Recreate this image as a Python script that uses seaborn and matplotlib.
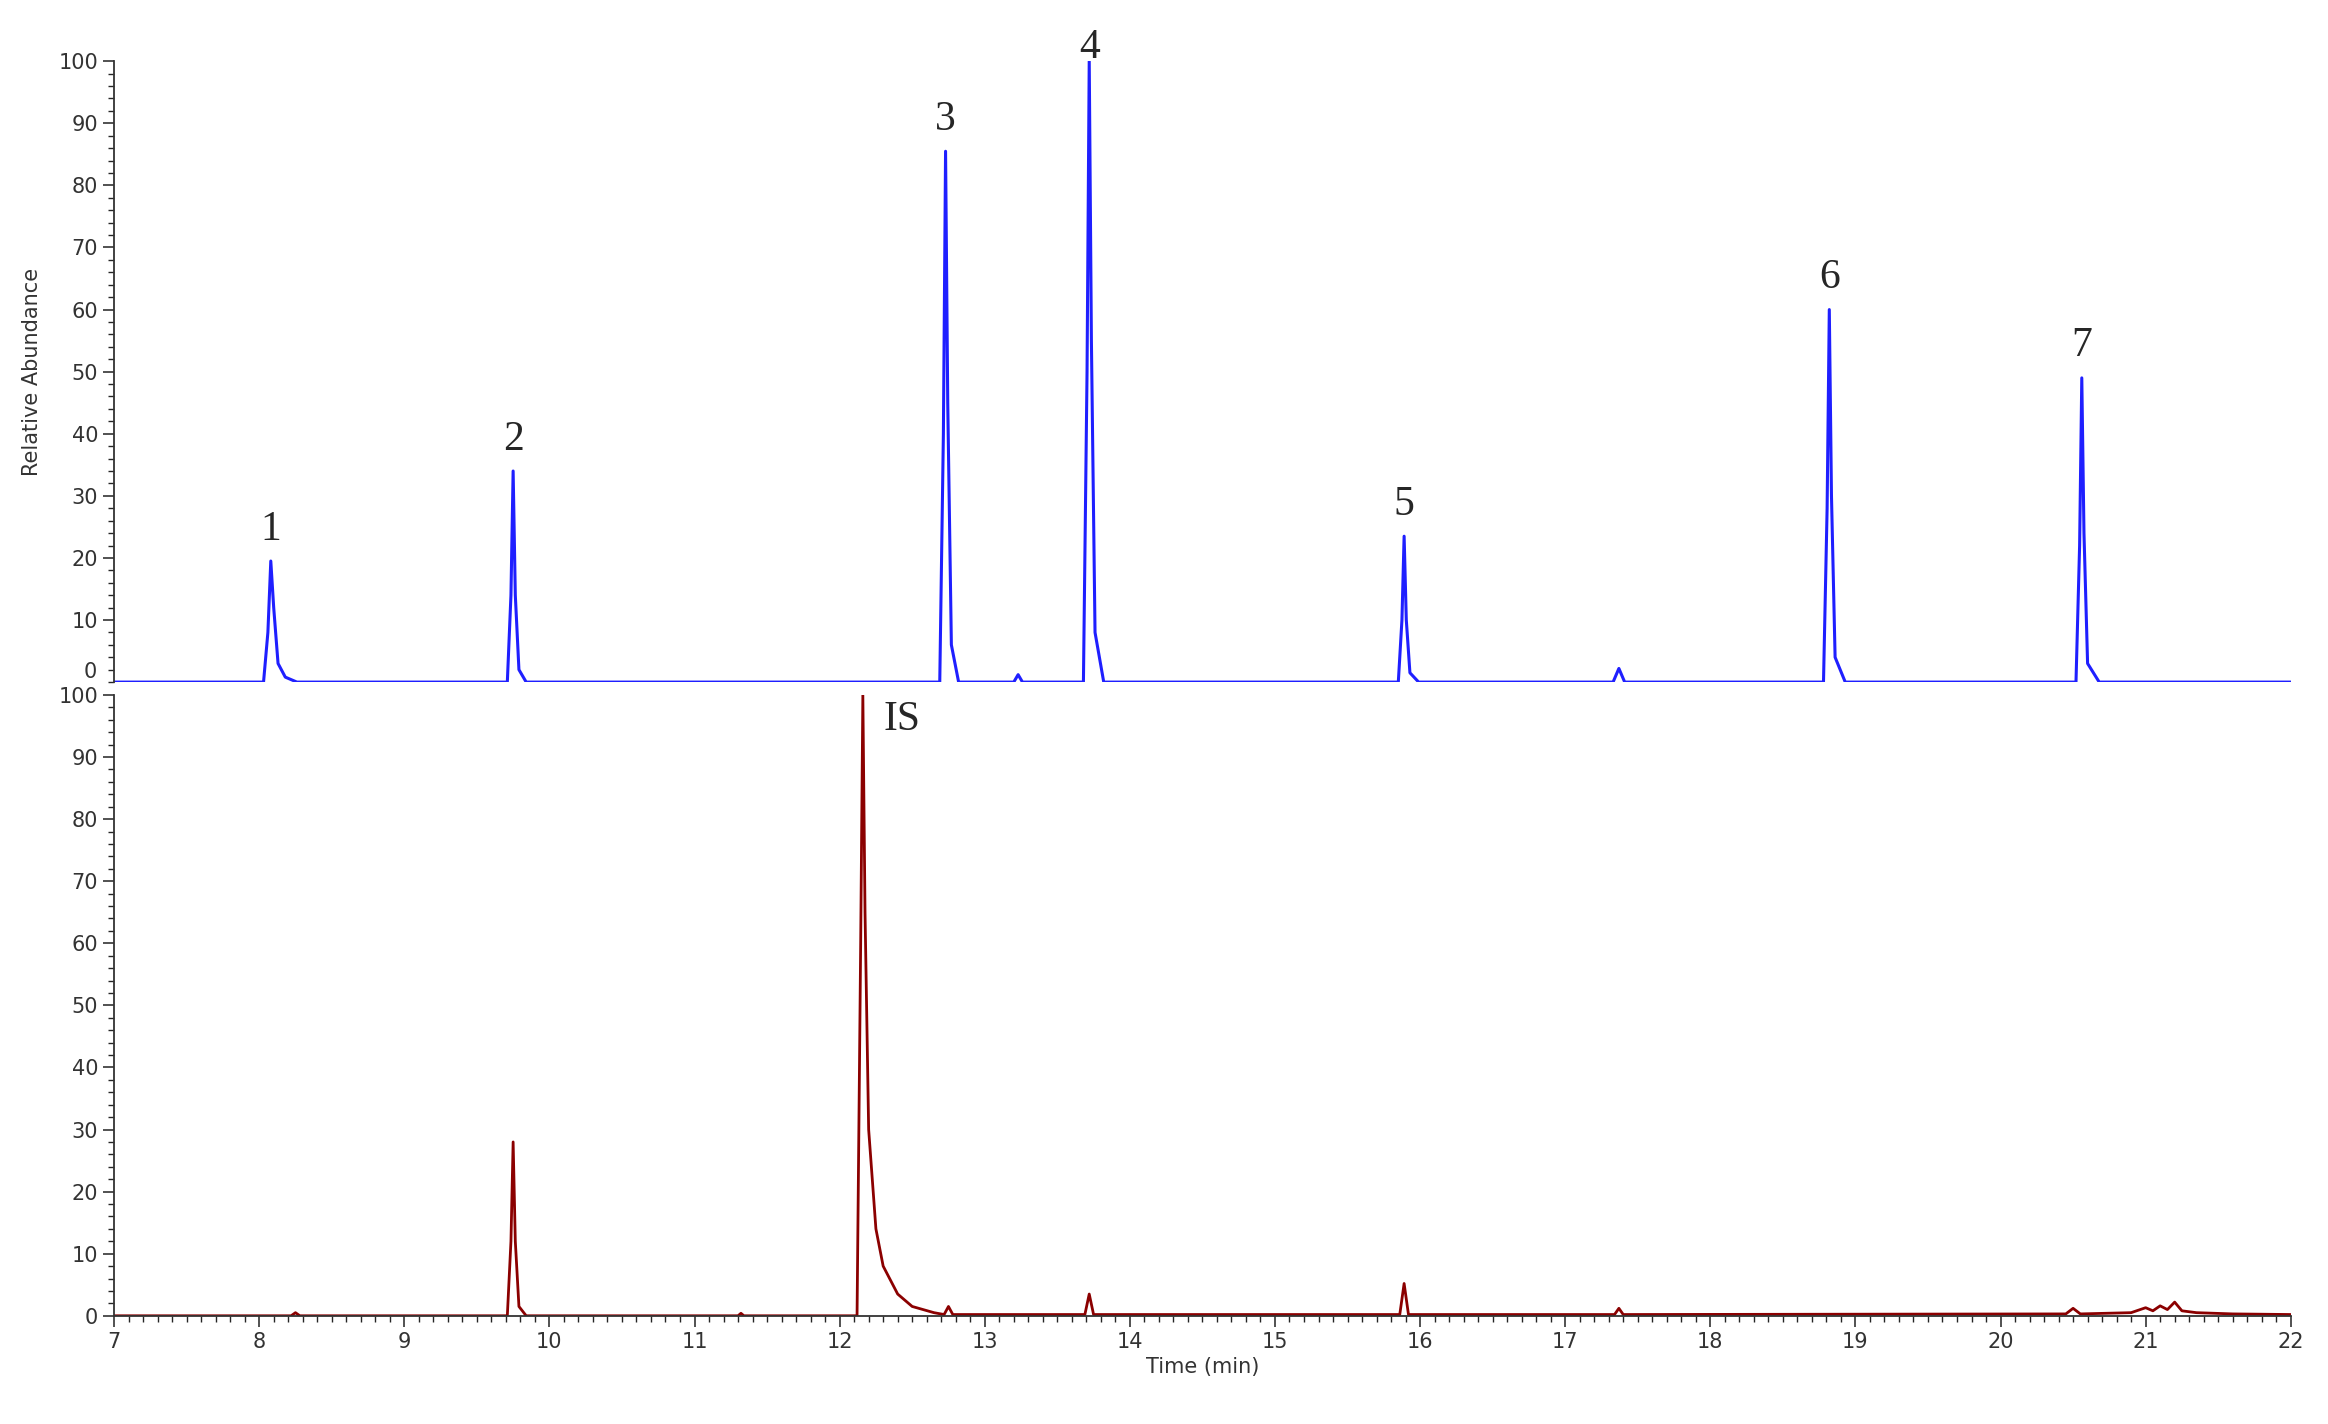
import matplotlib
matplotlib.use("Agg")
import matplotlib.pyplot as plt
import seaborn as sns
import pandas as pd
from matplotlib.ticker import MultipleLocator

# top trace (analytes), time in min / relative abundance
top_time = [7.0, 8.03, 8.06, 8.08, 8.10, 8.13, 8.18, 8.26,
            9.71, 9.735, 9.75, 9.765, 9.79, 9.84,
            12.69, 12.715, 12.73, 12.745, 12.77, 12.82,
            13.20, 13.23, 13.26,
            13.68, 13.705, 13.72, 13.735, 13.76, 13.82,
            15.85, 15.875, 15.89, 15.905, 15.93, 15.99,
            17.33, 17.37, 17.41,
            18.78, 18.805, 18.82, 18.835, 18.86, 18.93,
            20.52, 20.545, 20.56, 20.575, 20.60, 20.68, 22.0]
top_abund = [0, 0, 8, 19.5, 12, 3, 0.8, 0,
             0, 14, 34, 14, 2, 0,
             0, 40, 85.5, 45, 6, 0,
             0, 1.2, 0,
             0, 50, 100, 55, 8, 0,
             0, 10, 23.5, 10, 1.5, 0,
             0, 2.2, 0,
             0, 28, 60, 30, 4, 0,
             0, 22, 49, 24, 3, 0, 0]

# bottom trace (internal standard channel)
bot_time = [7.0, 8.22, 8.25, 8.28,
            9.71, 9.735, 9.75, 9.765, 9.79, 9.84,
            11.3, 11.32, 11.34,
            12.12, 12.145, 12.16, 12.175, 12.20, 12.25, 12.30, 12.40, 12.50, 12.65,
            12.72, 12.75, 12.78,
            13.69, 13.72, 13.75,
            15.86, 15.89, 15.92,
            17.34, 17.37, 17.40,
            20.45, 20.5, 20.55, 20.9, 21.0, 21.05, 21.1, 21.15, 21.2, 21.25, 21.35, 21.6, 22.0]
bot_abund = [0, 0, 0.5, 0,
             0, 12, 28, 12, 1.5, 0,
             0, 0.4, 0,
             0, 60, 100, 65, 30, 14, 8, 3.5, 1.5, 0.5,
             0.2, 1.5, 0.2,
             0.2, 3.5, 0.2,
             0.2, 5.2, 0.2,
             0.2, 1.2, 0.2,
             0.3, 1.2, 0.3, 0.5, 1.3, 0.8, 1.6, 1.0, 2.2, 0.8, 0.5, 0.3, 0.2]

peak_labels = ["1", "2", "3", "4", "5", "6", "7"]
peak_pos = [8.08, 9.75, 12.73, 13.72, 15.89, 18.82, 20.56]
peak_heights = [19.5, 34, 85.5, 97, 23.5, 60, 49]

sns.set_style("white")
fig = plt.figure(figsize=(23.28, 14.24), dpi=100)
ax1 = fig.add_axes([0.049, 0.521, 0.935, 0.436])
ax2 = fig.add_axes([0.049, 0.076, 0.935, 0.436])

top_df = pd.DataFrame({"t": top_time, "a": top_abund})
bot_df = pd.DataFrame({"t": bot_time, "a": bot_abund})
sns.lineplot(data=top_df, x="t", y="a", ax=ax1, color="#1f1fff", lw=2.2, sort=False)
sns.lineplot(data=bot_df, x="t", y="a", ax=ax2, color="#8b0000", lw=2.0, sort=False)

for ax in (ax1, ax2):
    ax.set_xlim(7, 22)
    ax.set_ylim(0, 100)
    ax.yaxis.set_major_locator(MultipleLocator(10))
    ax.yaxis.set_minor_locator(MultipleLocator(2))
    ax.tick_params(axis="y", which="major", direction="out", length=8, width=1.2, labelsize=15, colors="#333333", left=True)
    ax.tick_params(axis="y", which="minor", direction="out", length=4, width=1, left=True)
    for s in ["top", "right"]:
        ax.spines[s].set_visible(False)
    ax.spines["left"].set_color("#333333")
    ax.spines["left"].set_linewidth(1.3)
    ax.set_xlabel("")
    ax.set_ylabel("")

ax1.spines["bottom"].set_visible(False)
ax1.set_xticks([])
ax1.set_yticks(range(10, 101, 10))
ax1.text(-0.008, 0.0, "0", transform=ax1.transAxes, ha="right", va="bottom", fontsize=15, color="#333333")
ax1.set_ylabel("Relative Abundance", fontsize=15, color="#333333")
ax1.yaxis.set_label_coords(-0.033, 0.5)

ax2.spines["bottom"].set_color("#333333")
ax2.spines["bottom"].set_linewidth(1.3)
ax2.xaxis.set_major_locator(MultipleLocator(1))
ax2.xaxis.set_minor_locator(MultipleLocator(0.1))
ax2.tick_params(axis="x", which="major", direction="out", length=8, width=1.2, labelsize=15, colors="#333333", bottom=True)
ax2.tick_params(axis="x", which="minor", direction="out", length=4, width=1, bottom=True)
ax2.set_xlabel("Time (min)", fontsize=15, color="#333333")

for lab, x, h in zip(peak_labels, peak_pos, peak_heights):
    ax1.text(x, h + 2, lab, ha="center", va="bottom", fontsize=30, family="Liberation Serif", clip_on=False)
ax2.text(12.3, 96, "IS", ha="left", va="center", fontsize=30, family="Liberation Serif")

fig.savefig("out.png", dpi=100)
